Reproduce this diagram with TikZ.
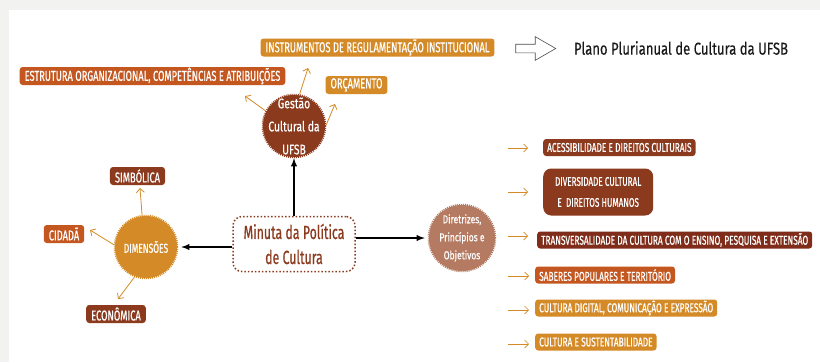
\documentclass[tikz,border=0pt]{standalone}
\usepackage{fontspec}
\setmainfont{Fira Sans}[FakeStretch=0.65,FakeBold=0.6]
\newfontfamily\planofont{Fira Sans}[FakeStretch=0.76,FakeBold=0.3]
\newfontfamily\rodafont{Fira Sans}[FakeStretch=0.74,FakeBold=0.4]
\usetikzlibrary{arrows,arrows.meta,positioning,shapes.arrows}

\definecolor{marrom}{HTML}{8B3A1E}
\definecolor{vinho}{HTML}{7F2D1A}
\definecolor{telha}{HTML}{C4561F}
\definecolor{ouro}{HTML}{D48A26}
\definecolor{rosado}{HTML}{B57B62}
\definecolor{fundo}{HTML}{F2F2F0}

\tikzset{
  caixa/.style={rounded corners=3pt, text=white, inner xsep=5pt, inner ysep=0pt,
    minimum height=18, font=\fontsize{14.3}{15}\selectfont},
  lista/.style={caixa, anchor=west, inner xsep=4pt, minimum height=17, font=\fontsize{12.8}{13}\selectfont},
  roda/.style={circle, minimum size=62, inner sep=0pt, text=white, align=center,
    line width=2.5pt, dash pattern=on 1pt off 1pt},
  rotulo/.style={text=white, align=center, inner sep=0pt},
  fina/.style={-{Straight Barb[length=4pt,width=8pt]}, ouro, line width=0.8pt},
  grossa/.style={-latex, line width=1.8pt}
}

\begin{document}
\begin{tikzpicture}[x=1pt,y=-1pt]
\fill[fundo] (0,0) rectangle (820,362);
\fill[white] (9,10) rectangle (820,362);
\useasboundingbox (0,0) rectangle (820,362);

% centro
\node[draw=marrom, dotted, line width=1.5pt, rounded corners=9pt, minimum width=122,
  minimum height=55, align=center, text=marrom, font=\fontsize{19}{25}\selectfont]
  (minuta) at (294,244) {Minuta da Política\\de Cultura};

% gestao
\node[roda, fill=marrom, draw=marrom,
  label={[rotulo, font=\rodafont\fontsize{14}{23}\selectfont]center:Gestão\\Cultural da\\UFSB}]
  (gestao) at (294,126) {};
\node[caixa, fill=telha] (estrutura) at (152.5,76) {ESTRUTURA ORGANIZACIONAL, COMPETÊNCIAS E ATRIBUIÇÕES};
\node[caixa, fill=ouro] (instrumentos) at (377.5,47.5) {INSTRUMENTOS DE REGULAMENTAÇÃO INSTITUCIONAL};
\node[caixa, fill=ouro] (orcamento) at (356.5,85) {ORÇAMENTO};
\node[single arrow, draw=black!70, line width=0.6pt, minimum height=40, minimum width=23,
  inner sep=4pt, single arrow head extend=7.5pt, single arrow tip angle=60]
  (seta) at (532,48.5) {};
\node[font=\planofont\fontsize{17.2}{18}\selectfont, text=black!90] (plano) at (681,48) {Plano Plurianual de Cultura da UFSB};

\coordinate (pEstr) at (245,96);
\coordinate (pInst) at (308,68);
\coordinate (pOrc) at (335,104);
\draw[fina] (gestao.152) -- (pEstr);
\draw[fina] (gestao.80) -- (pInst);
\draw[fina] (gestao.2) -- (pOrc);

% dimensoes
\node[roda, fill=ouro, draw=ouro, font=\fontsize{13}{14}\selectfont] (dimensoes) at (146,247) {DIMENSÕES};
\node[caixa, fill=marrom] (simbolica) at (137.5,176) {SIMBÓLICA};
\node[caixa, fill=telha] (cidada) at (64,234) {CIDADÃ};
\node[caixa, fill=marrom] (economica) at (116,314) {ECONÔMICA};

\coordinate (pSimb) at (140,188);
\coordinate (pCid) at (90,230);
\coordinate (pEcon) at (118,299);
\draw[fina] (dimensoes.97) -- (pSimb);
\draw[fina] (dimensoes.176) -- (pCid);
\draw[fina] (dimensoes.249) -- (pEcon);

% diretrizes
\node[roda, fill=rosado, draw=rosado, minimum size=66,
  label={[rotulo, font=\rodafont\fontsize{11.5}{18}\selectfont]center:Diretrizes,\\Princípios e\\Objetivos}]
  (diretrizes) at (462,238) {};

\node[lista, fill=marrom] (acess) at (543,147.5) {ACESSIBILIDADE E DIREITOS CULTURAIS};
\node[lista, fill=marrom, rounded corners=8pt, minimum height=47, minimum width=110,
  align=center, font=\fontsize{12.5}{21}\selectfont] (divers) at (543,192) {DIVERSIDADE CULTURAL\\E\ \ DIREITOS HUMANOS};
\node[lista, fill=vinho] (transv) at (537,240) {TRANSVERSALIDADE DA CULTURA COM O ENSINO, PESQUISA E EXTENSÃO};
\node[lista, fill=telha] (saberes) at (535,275) {SABERES POPULARES E TERRITÓRIO};
\node[lista, fill=ouro] (digital) at (535,308) {CULTURA DIGITAL, COMUNICAÇÃO E EXPRESSÃO};
\node[lista, fill=ouro] (sustent) at (535,342) {CULTURA E SUSTENTABILIDADE};

\coordinate (a1) at (508,148);
\coordinate (a2) at (508,192);
\coordinate (a3) at (508,236);
\coordinate (a4) at (508,276);
\coordinate (a5) at (508,310);
\coordinate (a6) at (508,344);
\draw[fina, line width=0.7pt, shorten >=15pt] (a1) -- (a1 -| acess.west);
\draw[fina, line width=0.7pt, shorten >=15pt] (a2) -- (a2 -| divers.west);
\draw[fina, line width=0.7pt, shorten >=9pt] (a3) -- (a3 -| transv.west);
\draw[fina, line width=0.7pt, shorten >=6pt] (a4) -- (a4 -| saberes.west);
\draw[fina, line width=0.7pt, shorten >=6pt] (a5) -- (a5 -| digital.west);
\draw[fina, line width=0.7pt, shorten >=6pt] (a6) -- (a6 -| sustent.west);

% ligacoes principais
\draw[grossa] (minuta.north -| gestao.south) -- (gestao.south);
\draw[grossa, shorten >=3pt] (minuta.west |- dimensoes) -- (dimensoes.east);
\draw[grossa, shorten >=3pt] (minuta.east |- diretrizes) -- (diretrizes.west);
\end{tikzpicture}
\end{document}
